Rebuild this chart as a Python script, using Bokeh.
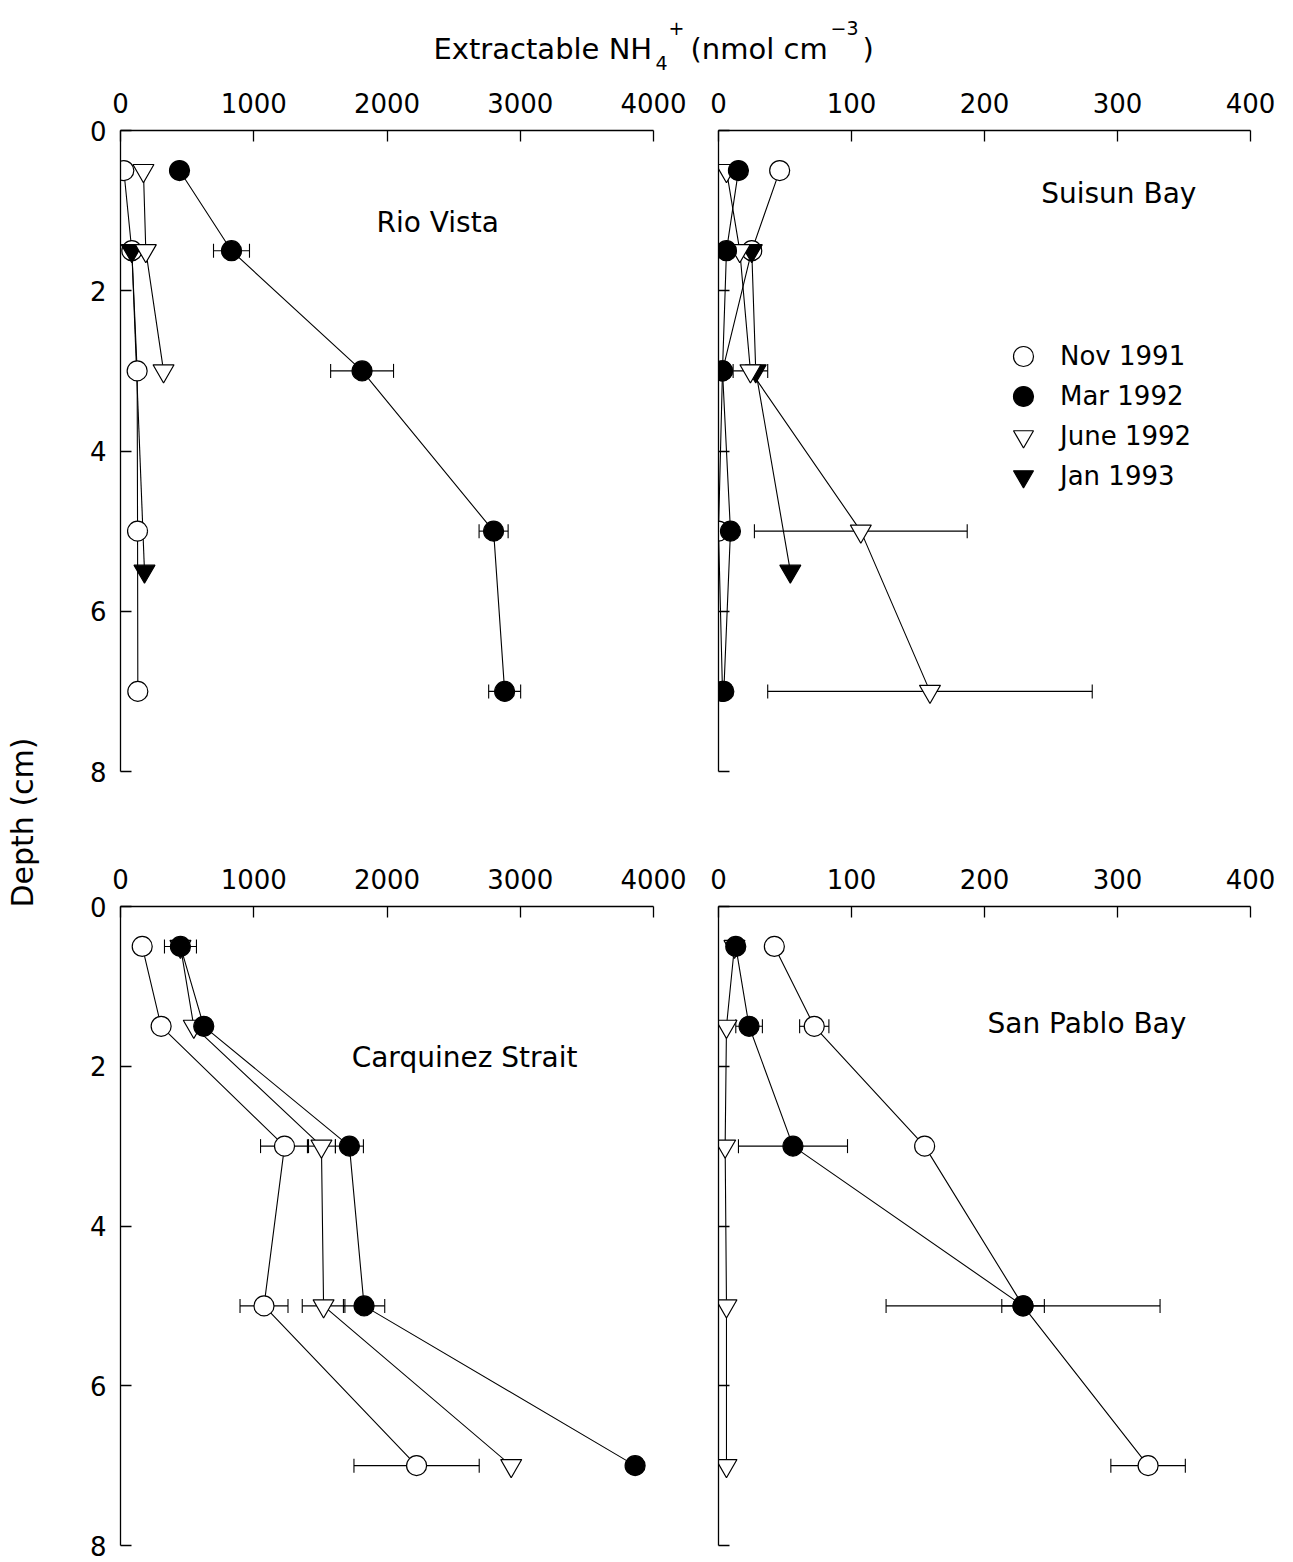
import math
from bokeh.plotting import figure
from bokeh.models import (Range1d, FixedTicker, ColumnDataSource, Whisker, TeeHead,
                          Label, Legend, LegendItem)
from bokeh.layouts import row, column
from bokeh.embed import file_html
from bokeh.resources import INLINE

# ---------------- data (depth in cm, extractable NH4+ in nmol cm-3) ----------------
series_names = ["Nov 1991", "Mar 1992", "June 1992", "Jan 1993"]

# Rio Vista
rio_nov_depth = [0.5, 1.5, 3.0, 5.0, 7.0]
rio_nov = [25, 85, 125, 128, 130]
rio_nov_err = [0, 0, 0, 0, 0]
rio_mar_depth = [0.5, 1.5, 3.0, 5.0, 7.0]
rio_mar = [443, 833, 1813, 2800, 2883]
rio_mar_err = [0, 135, 236, 109, 120]
rio_jun_depth = [0.5, 1.5, 3.0]
rio_jun = [172, 190, 323]
rio_jun_err = [0, 0, 0]
rio_jan_depth = [1.5, 5.5]
rio_jan = [85, 180]
rio_jan_err = [0, 0]

# Suisun Bay
sui_nov_depth = [0.5, 1.5, 3.0, 5.0, 7.0]
sui_nov = [46, 25, 3, 0, 3]
sui_nov_err = [0, 0, 0, 0, 0]
sui_mar_depth = [0.5, 1.5, 3.0, 5.0, 7.0]
sui_mar = [15, 6, 3, 9, 4]
sui_mar_err = [0, 0, 0, 0, 0]
sui_jun_depth = [0.5, 1.5, 3.0, 5.0, 7.0]
sui_jun = [6, 16, 24, 107, 159]
sui_jun_err = [0, 0, 13, 80, 122]
sui_jan_depth = [1.5, 3.0, 5.5]
sui_jan = [25, 28, 54]
sui_jan_err = [0, 0, 0]

# Carquinez Strait
car_nov_depth = [0.5, 1.5, 3.0, 5.0, 7.0]
car_nov = [163, 305, 1231, 1077, 2222]
car_nov_err = [0, 0, 180, 180, 470]
car_mar_depth = [0.5, 1.5, 3.0, 5.0, 7.0]
car_mar = [450, 625, 1718, 1828, 3862]
car_mar_err = [120, 0, 105, 155, 0]
car_jun_depth = [0.5, 1.5, 3.0, 5.0, 7.0]
car_jun = [450, 550, 1508, 1524, 2932]
car_jun_err = [0, 0, 105, 160, 0]

# San Pablo Bay
sp_nov_depth = [0.5, 1.5, 3.0, 5.0, 7.0]
sp_nov = [42, 72, 155, 229, 323]
sp_nov_err = [0, 11, 0, 16, 28]
sp_mar_depth = [0.5, 1.5, 3.0, 5.0]
sp_mar = [13, 23, 56, 229]
sp_mar_err = [0, 10, 41, 103]
sp_jun_depth = [0.5, 1.5, 3.0, 5.0, 7.0]
sp_jun = [12, 6, 5, 6, 6]
sp_jun_err = [0, 0, 0, 0, 0]

ticks_big = [0, 1000, 2000, 3000, 4000]
ticks_small = [0, 100, 200, 300, 400]
depth_ticks = [0, 2, 4, 6, 8]

# ---------------- styling ----------------
FONT = "DejaVu Sans"
TICK_FS = "26px"
SITE_FS = "28px"
LEG_FS = "26px"

STYLE = {
    "Nov 1991": dict(marker="circle", fill="white", size=20),
    "Mar 1992": dict(marker="circle", fill="black", size=20),
    "June 1992": dict(marker="inverted_triangle", fill="white", size=21),
    "Jan 1993": dict(marker="inverted_triangle", fill="black", size=21),
}
DRAW_ORDER = ["Nov 1991", "Jan 1993", "June 1992", "Mar 1992"]


def make_panel(xmax, xticks, ylabels, width, mb_left, mb_right, height, mb_top, mb_bottom):
    p = figure(width=width, height=height, x_range=Range1d(0, xmax), y_range=Range1d(8, 0),
               x_axis_location="above", output_backend="svg", toolbar_location=None,
               min_border_left=mb_left, min_border_right=mb_right,
               min_border_top=mb_top, min_border_bottom=mb_bottom)
    p.outline_line_color = None
    p.xgrid.visible = False
    p.ygrid.visible = False
    p.background_fill_color = "white"
    p.border_fill_color = "white"
    for ax in (p.xaxis[0], p.yaxis[0]):
        ax.major_tick_in = 11
        ax.major_tick_out = 0
        ax.minor_tick_in = 0
        ax.minor_tick_out = 0
        ax.axis_line_width = 1.3
        ax.major_tick_line_width = 1.3
        ax.major_label_text_font = FONT
        ax.major_label_text_font_size = TICK_FS
        ax.major_label_text_color = "black"
    p.xaxis[0].major_label_standoff = 18
    p.yaxis[0].major_label_standoff = 14
    p.xaxis[0].ticker = FixedTicker(ticks=xticks)
    p.xaxis[0].major_label_overrides = {t: str(t) for t in xticks}
    p.yaxis[0].ticker = FixedTicker(ticks=depth_ticks)
    if ylabels:
        p.yaxis[0].major_label_overrides = {t: str(t) for t in depth_ticks}
    else:
        p.yaxis[0].major_label_overrides = {t: "" for t in depth_ticks}
        p.yaxis[0].major_label_standoff = 0
    return p


def add_series(p, data):
    for name in DRAW_ORDER:
        if name not in data:
            continue
        d, v, e = data[name]
        p.line(x=v, y=d, line_color="black", line_width=1.1)
        bd = [dd for dd, ee in zip(d, e) if ee > 0]
        if bd:
            lo = [vv - ee for vv, ee in zip(v, e) if ee > 0]
            hi = [vv + ee for vv, ee in zip(v, e) if ee > 0]
            src = ColumnDataSource(dict(base=bd, lower=lo, upper=hi))
            w = Whisker(source=src, base="base", lower="lower", upper="upper",
                        dimension="width", line_color="black", line_width=1.1,
                        level="underlay",
                        upper_head=TeeHead(size=14, line_color="black", line_width=1.1),
                        lower_head=TeeHead(size=14, line_color="black", line_width=1.1))
            p.add_layout(w)
    rends = {}
    for name in DRAW_ORDER:
        if name not in data:
            continue
        d, v, e = data[name]
        st = STYLE[name]
        rends[name] = p.scatter(x=v, y=d, marker=st["marker"], size=st["size"],
                                fill_color=st["fill"], line_color="black", line_width=1.2)
    return rends


def add_site_label(p, text, x, y):
    p.add_layout(Label(x=x, y=y, text=text, text_align="center", text_baseline="middle",
                       text_font=FONT, text_font_size=SITE_FS, text_color="black"))


# geometry (page pixels)
STRIP_W = 58
TL_W, TR_W = 642, 582
TITLE_H = 76
TOP_H, BOT_H = 724, 760
TOP_FRAME_H = 641
TOP_MB_TOP = 130 - TITLE_H

tl = make_panel(4000, ticks_big, True, TL_W, 62, 47, TOP_H, TOP_MB_TOP, TOP_H - TOP_MB_TOP - TOP_FRAME_H)
tr = make_panel(400, ticks_small, False, TR_W, 18, 32, TOP_H, TOP_MB_TOP, TOP_H - TOP_MB_TOP - TOP_FRAME_H)
bl = make_panel(4000, ticks_big, True, TL_W, 62, 47, BOT_H, 106, 15)
br = make_panel(400, ticks_small, False, TR_W, 18, 32, BOT_H, 106, 15)

add_series(tl, {"Nov 1991": (rio_nov_depth, rio_nov, rio_nov_err),
                "Mar 1992": (rio_mar_depth, rio_mar, rio_mar_err),
                "June 1992": (rio_jun_depth, rio_jun, rio_jun_err),
                "Jan 1993": (rio_jan_depth, rio_jan, rio_jan_err)})
r_sui = add_series(tr, {"Nov 1991": (sui_nov_depth, sui_nov, sui_nov_err),
                        "Mar 1992": (sui_mar_depth, sui_mar, sui_mar_err),
                        "June 1992": (sui_jun_depth, sui_jun, sui_jun_err),
                        "Jan 1993": (sui_jan_depth, sui_jan, sui_jan_err)})
add_series(bl, {"Nov 1991": (car_nov_depth, car_nov, car_nov_err),
                "Mar 1992": (car_mar_depth, car_mar, car_mar_err),
                "June 1992": (car_jun_depth, car_jun, car_jun_err)})
add_series(br, {"Nov 1991": (sp_nov_depth, sp_nov, sp_nov_err),
                "Mar 1992": (sp_mar_depth, sp_mar, sp_mar_err),
                "June 1992": (sp_jun_depth, sp_jun, sp_jun_err)})

add_site_label(tl, "Rio Vista", 2380, 1.15)
add_site_label(tr, "Suisun Bay", 301, 0.79)
add_site_label(bl, "Carquinez Strait", 2582, 1.89)
add_site_label(br, "San Pablo Bay", 277, 1.47)

# legend: one single-entry legend per row, rows 40 px apart (frame-relative screen px)
LEG_BOX = 50
for i, n in enumerate(series_names):
    row_center_from_top = 226 + 40 * i
    lg = Legend(items=[LegendItem(label=n, renderers=[r_sui[n]])],
                location=(280, TOP_FRAME_H - row_center_from_top - LEG_BOX // 2),
                glyph_width=LEG_BOX, glyph_height=LEG_BOX, label_height=LEG_BOX,
                spacing=0, padding=0, margin=0, label_standoff=12,
                label_text_font=FONT, label_text_font_size=LEG_FS, label_text_color="black",
                border_line_color=None, background_fill_alpha=0)
    tr.add_layout(lg)

# title strip (coordinates are page pixels minus the strip offset)
title = figure(width=TL_W + TR_W, height=TITLE_H, x_range=Range1d(0, TL_W + TR_W),
               y_range=Range1d(TITLE_H, 0), x_axis_type=None, y_axis_type=None,
               output_backend="svg", toolbar_location=None, min_border=0)
title.outline_line_color = None
title_parts = [("Extractable NH", 433, 48, "29px"), ("4", 655, 62, "19px"),
               ("+", 668, 27, "19px"), ("(nmol cm", 690, 48, "29px"),
               ("\u22123", 830, 27, "19px"), (")", 862, 48, "29px")]
for txt, x, y, fs in title_parts:
    title.add_layout(Label(x=x - STRIP_W, y=y, text=txt, text_align="left",
                           text_baseline="alphabetic",
                           text_font=FONT, text_font_size=fs, text_color="black"))

# y label strip
STRIP_H = TITLE_H + TOP_H + BOT_H
strip = figure(width=STRIP_W, height=STRIP_H, x_range=Range1d(0, STRIP_W),
               y_range=Range1d(STRIP_H, 0), x_axis_type=None, y_axis_type=None,
               output_backend="svg", toolbar_location=None, min_border=0)
strip.outline_line_color = None
strip.add_layout(Label(x=22, y=822, text="Depth (cm)", angle=math.pi / 2,
                       text_align="center", text_baseline="middle",
                       text_font=FONT, text_font_size="30px", text_color="black"))

layout = row(strip, column(title, row(tl, tr), row(bl, br)))
open("out.html", "w").write(file_html(layout, INLINE))
